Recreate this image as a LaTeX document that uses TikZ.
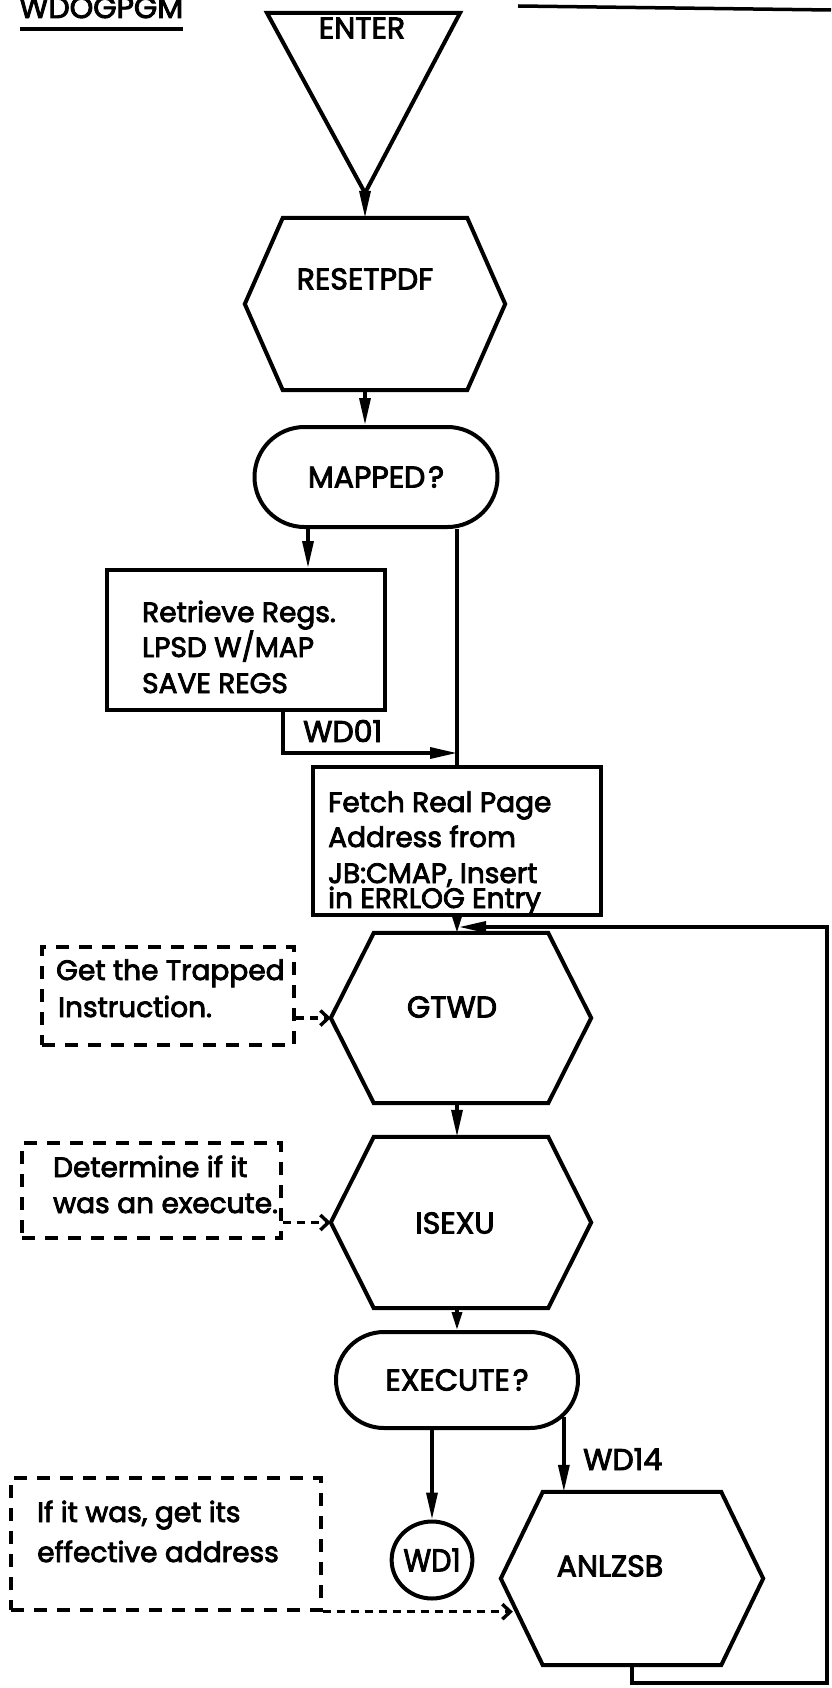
\documentclass[tikz,border=0pt]{standalone}
\usepackage{fontspec}
\setmainfont{Poppins}[FakeBold=3]
\usetikzlibrary{arrows.meta,shapes.misc,shapes.geometric,calc}
\newcommand\hexout[2]{\draw[shapeline] ([xshift=#2pt]#1.north west) -- ([xshift=-#2pt]#1.north east) -- (#1.east) -- ([xshift=-#2pt]#1.south east) -- ([xshift=#2pt]#1.south west) -- (#1.west) -- cycle;}
\begin{document}
\begin{tikzpicture}[x=1pt,y=-1pt,
  shapeline/.style={line width=4pt,line join=miter},
  conn/.style={line width=3.4pt},
  arr/.style={conn,-{Triangle[length=27pt,width=11pt]}},
  sarr/.style={conn,-{Triangle[length=18pt,width=10pt]}},
  darr/.style={line width=3.4pt,dash pattern=on 8pt off 6pt,-{Straight Barb[length=8pt,width=15pt]}},
  capf/.style={font=\fontsize{30}{36}\selectfont},
  bodyf/.style={font=\fontsize{28}{34}\selectfont},
  lbl/.style={capf,inner sep=0pt},
  line/.style={bodyf,inner sep=0pt,anchor=base west},
  hexbox/.style={draw=none,inner sep=0pt,minimum width=260pt,minimum height=#1},
  procbox/.style={draw,shapeline,inner sep=0pt},
  dbox/.style={draw,line width=3.4pt,dash pattern=on 13pt off 10pt,inner sep=0pt},
  stadium/.style={rounded rectangle,draw,shapeline,capf,inner sep=0pt,minimum width=243pt,minimum height=#1},
]
\useasboundingbox (0,0) rectangle (831,1688);

% header
\node[lbl,anchor=base west] (title) at (19,18) {WDOGPGM};
\draw[line width=3.5pt] (20,29) -- (183,29);
\draw[line width=3.5pt] (518,6) -- (831,10);

% ENTER terminal
\coordinate (enterA) at (267,13);
\coordinate (enterB) at (460,13);
\coordinate (enterApex) at (365,193);
\draw[shapeline] (enterA) -- (enterB) -- (enterApex) -- cycle;
\node[lbl] (entertxt) at (362,28) {ENTER};

% RESETPDF
\node[hexbox=172pt] (reset) at (375,304) {};
\hexout{reset}{38}
\node[lbl] (resettxt) at (365,279) {RESETPDF};
\draw[arr] (enterApex) -- (enterApex |- reset.north);

% MAPPED?
\node[stadium=100pt] (mapped) at (376,477) {MAPPED\kern3pt?};
\draw[arr] (enterApex |- reset.south) -- (enterApex |- mapped.north);

% Retrieve box
\node[procbox,minimum width=278pt,minimum height=140pt] (retrieve) at (246,640) {};
\node[line] (ret1) at (142,622) {Retrieve Regs.};
\node[line] (ret2) at (142,657) {LPSD W/MAP};
\node[line] (ret3) at (142,693) {SAVE REGS};
\coordinate (retIn) at ([xshift=62pt]retrieve.north);
\draw[arr] (retIn |- mapped.south) -- (retIn);

% Fetch box
\node[procbox,minimum width=288pt,minimum height=148pt] (fetch) at (457,841) {};
\node[line] (fet1) at (328,812) {Fetch Real Page};
\node[line] (fet2) at (328,847) {Address from};
\node[line] (fet3) at (328,883) {JB:CMAP, Insert};
\node[line] (fet4) at (328,908) {in ERRLOG Entry};
\draw[conn] (fetch.north |- mapped.south) -- (fetch.north);
\coordinate (retOut) at ([xshift=37pt]retrieve.south);
\coordinate (wdjoin) at (fetch.north |- 0,753);
\draw[arr] (retOut) |- (wdjoin);
\node[lbl,anchor=base west] (wd01) at (303,742) {WD01};

% GTWD
\node[hexbox=170pt] (gtwd) at (461,1018) {};
\hexout{gtwd}{43}
\node[lbl] (gtwdtxt) at (452,1007) {GTWD};
\draw[sarr] (fetch.south) -- (fetch.south |- gtwd.north);

% Trapped comment
\node[dbox,minimum width=252pt,minimum height=98pt] (trapped) at (168,996) {};
\node[line] (tr1) at (56,980) {Get the Trapped};
\node[line] (tr2) at (58,1017) {Instruction.};
\draw[darr] (gtwd.west -| trapped.east) -- (gtwd.west);

% ISEXU
\node[hexbox=171pt] (isexu) at (461,1222.5) {};
\hexout{isexu}{43}
\node[lbl] (isexutxt) at (455,1223) {ISEXU};
\draw[arr] (fetch.south |- gtwd.south) -- (fetch.south |- isexu.north);

% Determine comment
\node[dbox,minimum width=259pt,minimum height=95pt] (determine) at (151.5,1190.5) {};
\node[line] (de1) at (53,1177) {Determine if it};
\node[line] (de2) at (53,1213) {was an execute.};
\draw[darr] (isexu.west -| determine.east) -- (isexu.west);

% EXECUTE?
\node[stadium=96pt,minimum width=242pt] (exec) at (457,1380) {EXECUTE\kern3pt?};
\draw[sarr] (fetch.south |- isexu.south) -- (fetch.south |- exec.north);

% WD1 connector
\node[ellipse,draw,shapeline,inner sep=0pt,minimum width=75pt,minimum height=77pt,capf] (wd1) at (432,1560) {\scalebox{0.95}[1.05]{WD1}};
\draw[arr] (wd1.north |- exec.south) -- (wd1.north);

% ANLZSB
\node[hexbox=173pt,minimum width=262pt] (anlz) at (632,1578.5) {};
\hexout{anlz}{42}
\node[lbl] (anlztxt) at (610,1566) {ANLZSB};
\draw[arr] (exec.-19) -- (exec.-19 |- anlz.north);
\node[lbl,anchor=base west] (wd14) at (583,1470) {WD14};

% If it was comment
\node[dbox,minimum width=310pt,minimum height=132pt] (ifwas) at (166,1544) {};
\node[line] (if1) at (37,1522) {If it was, get its};
\node[line] (if2) at (37,1562) {effective address};
\draw[darr] (ifwas.south east) -- ($(ifwas.south east -| anlz.west)+(12,0)$);

% loop back
\coordinate (loopBR) at (827,1683);
\coordinate (loopTR) at (827,927);
\draw[arr] (anlz.south) |- (loopBR) -- (loopTR) -- ($(fetch.south |- loopTR)+(2,0)$);
\end{tikzpicture}
\end{document}
